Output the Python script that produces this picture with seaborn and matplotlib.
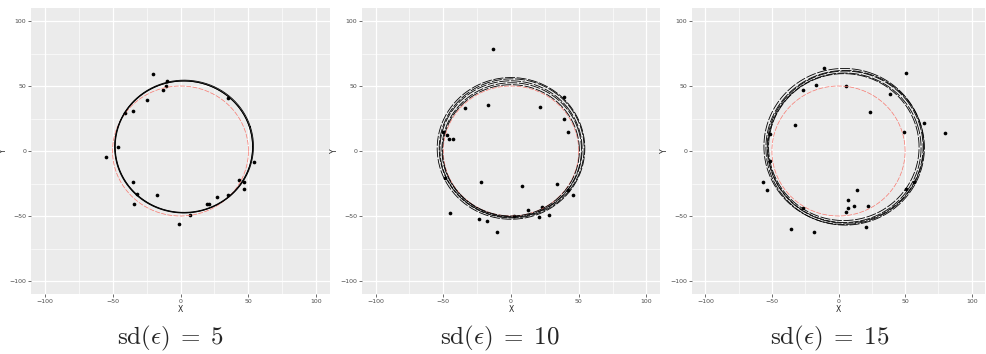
import numpy as np
import pandas as pd
import matplotlib
matplotlib.use("Agg")
import matplotlib.pyplot as plt
import seaborn as sns

# ---------------- data ----------------
titles = [r"$\mathrm{sd}(\epsilon)\;=\;5$", r"$\mathrm{sd}(\epsilon)\;=\;10$", r"$\mathrm{sd}(\epsilon)\;=\;15$"]

p1_x = [-20, -9.8, -10.5, -13, -25, -41, -35, -46, -55, -35, -32, -34, -17, -1, 7, 19.5, 21, 27, 35, 43, 47, 47, 54, 35]
p1_y = [59, 54, 50, 47, 39.5, 29, 31, 3, -4.6, -23.5, -33, -40.5, -34, -56, -49, -41, -41, -35, -34, -22, -24, -29, -8.5, 41]

p2_x = [-13, 39, 21.7, -17.3, -34, 39, 42, -47, -46, -43, -50, -48.5, -22, 8, 34, 42, 46, -45, -23.4, -18, -10.5, 12.7, 22.7, 21, 28, 2.4]
p2_y = [78.6, 41.6, 33.7, 35.5, 33, 25, 15, 12.5, 9, 9, 15, -21, -24, -27, -25, -30, -34, -48, -52.5, -54, -62.5, -45, -43, -51, -49, -50]

p3_x = [-11.2, 50.7, -17, -26.6, 5.9, 38.5, 24, -32.4, 64, 80, 49.5, -51.7, -57, -53.7, 14, 7, 7.5, 11.5, 22, 6, -26.3, 56.6, 51, 21, -36, -18.3, -51.7]
p3_y = [63.8, 60, 51, 46.7, 49.7, 43.9, 30, 20, 21.4, 13.5, 14.8, -7.6, -23.5, -30, -30, -38, -44, -42, -42, -47, -44, -24, -29, -58.4, -60, -62, 13]

# fitted circles: centre x, centre y, radius
c1_cx = [2.5, 2.7, 2.3]
c1_cy = [3.3, 3.5, 3.1]
c1_r = [50.5, 51.0, 50.8]

c2_cx = [0.0, 0.5, 0.0, 0.5, 0.0]
c2_cy = [0.5, 1.0, 1.5, 2.0, 2.0]
c2_r = [50.5, 51.5, 52.5, 53.5, 54.5]

c3_cx = [4.0, 4.5, 5.0, 5.0, 4.0]
c3_cy = [3.0, 2.5, 3.0, 2.5, 3.5]
c3_r = [56.5, 57.5, 58.5, 59.5, 60.0]

true_r = 50

ticks = [-100, -50, 0, 50, 100]
minor_ticks = [-75, -25, 25, 75]

# ---------------- style ----------------
sns.set_theme(style="darkgrid", rc={
    "axes.facecolor": "#EBEBEB",
    "grid.color": "white",
    "axes.edgecolor": "none",
})
plt.rcParams["mathtext.fontset"] = "cm"

fig = plt.figure(figsize=(9.86, 3.54), dpi=100)
positions = [
    [31 / 986, 1 - 294 / 354, 299 / 986, 286 / 354],
    [362 / 986, 1 - 294 / 354, 298 / 986, 286 / 354],
    [692 / 986, 1 - 294 / 354, 293 / 986, 286 / 354],
]

points = [(p1_x, p1_y), (p2_x, p2_y), (p3_x, p3_y)]
circles = [(c1_cx, c1_cy, c1_r), (c2_cx, c2_cy, c2_r), (c3_cx, c3_cy, c3_r)]
theta = np.linspace(0, 2 * np.pi, 400)
centers_px = [170, 500, 830]

for i in range(3):
    ax = fig.add_axes(positions[i])
    ax.set_xlim(-110, 110)
    ax.set_ylim(-110, 110)
    ax.set_xticks(ticks)
    ax.set_yticks(ticks)
    ax.set_xticks(minor_ticks, minor=True)
    ax.set_yticks(minor_ticks, minor=True)
    ax.grid(which="major", color="white", linewidth=0.9)
    ax.grid(which="minor", color="white", linewidth=0.45)
    ax.tick_params(axis="both", which="major", labelsize=4.5, labelcolor="#4D4D4D",
                   length=2, width=0.5, color="#333333", pad=1.5, bottom=True, left=True)
    ax.tick_params(axis="both", which="minor", length=0)
    ax.set_xlabel("X", fontsize=5.5, labelpad=1, color="#222222")
    ax.set_ylabel("Y", fontsize=5.5, labelpad=1, color="#222222")

    # true circle
    tc = pd.DataFrame({"x": true_r * np.cos(theta), "y": true_r * np.sin(theta)})
    sns.lineplot(data=tc, x="x", y="y", sort=False, ax=ax, color="#F8766D",
                 linewidth=0.5, estimator=None)
    ax.lines[-1].set_dashes([7, 2])

    cx, cy, rr = circles[i]
    for k in range(len(rr)):
        cdf = pd.DataFrame({"x": cx[k] + rr[k] * np.cos(theta + 0.3 * k),
                            "y": cy[k] + rr[k] * np.sin(theta + 0.3 * k)})
        sns.lineplot(data=cdf, x="x", y="y", sort=False, ax=ax, color="black",
                     linewidth=0.6, estimator=None)
        if i > 0:
            ax.lines[-1].set_dashes([12, 2])

    px, py = points[i]
    sns.scatterplot(x=px, y=py, ax=ax, color="black", s=7, linewidth=0)

    fig.text(centers_px[i] / 986, 1 - 338 / 354, titles[i], ha="center", va="center",
             fontsize=18)

fig.savefig("out.png", dpi=100, facecolor="white")
